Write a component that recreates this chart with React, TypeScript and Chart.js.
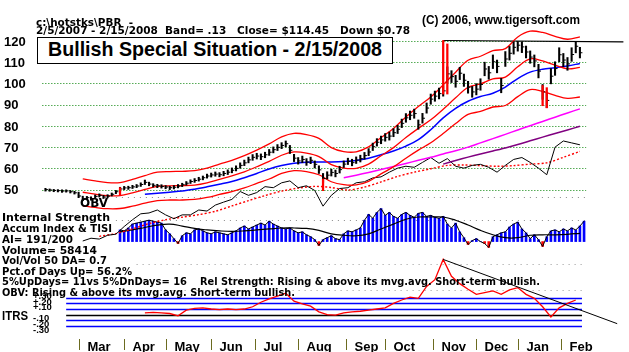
import React, { useEffect, useLayoutEffect, useRef } from "react";
import { Chart, registerables } from "chart.js";
Chart.register(...registerables);

const W = 629;
const H = 352;

// ---------- data (trading-day based, price sampled every 2 trading days) ----------
const priceLow = [
  49.3, 49.2, 49.0, 48.9, 48.7, 48.8, 48.4, 47.9, 46.2, 44.8,
  45.3, 45.0, 45.9, 46.5, 45.8, 46.1, 47.0, 48.1, 48.9, 50.0,
  50.1, 50.5, 50.9, 51.5, 52.4, 51.8, 51.2, 50.9, 50.7, 50.4,
  50.0, 50.3, 50.8, 51.4, 52.1, 52.9, 53.4, 54.0, 54.6, 55.4,
  55.9, 56.3, 56.0, 56.5, 57.1, 57.9, 58.8, 60.1, 61.3, 62.6,
  63.8, 64.4, 64.1, 65.0, 66.1, 67.3, 68.4, 69.3, 70.1, 67.0,
  63.2, 62.0, 62.7, 61.4, 62.2, 60.2, 57.6, 53.4, 55.0, 56.4,
  56.0, 57.8, 60.4, 61.8, 61.2, 62.3, 63.0, 64.3, 66.0, 68.4,
  70.5, 71.6, 72.8, 73.3, 74.9, 76.4, 79.2, 81.7, 82.9, 83.6,
  78.4, 81.3, 86.0, 90.2, 91.6, 92.7, 94.0, 100.2, 100.4, 98.2,
  101.8, 98.6, 95.4, 93.5, 94.6, 96.8, 103.6, 102.0, 107.0, 105.0,
  95.6, 108.0, 111.0, 113.8, 115.2, 114.5, 112.0, 109.5, 107.8, 102.6,
  92.5, 88.6, 99.8, 103.8, 110.2, 107.9, 106.2, 110.4, 114.4, 112.0,
];
const priceHigh = [
  50.6, 50.3, 50.1, 50.0, 49.9, 49.9, 49.6, 49.2, 48.8, 46.9,
  46.8, 46.6, 47.5, 48.0, 47.3, 47.6, 48.4, 49.6, 51.1, 51.5,
  51.6, 52.0, 52.4, 53.2, 54.5, 53.5, 52.8, 52.5, 52.3, 51.9,
  51.6, 51.9, 52.4, 53.0, 53.8, 54.6, 55.2, 55.8, 56.4, 57.3,
  57.8, 58.3, 58.0, 58.6, 59.3, 60.2, 61.2, 62.6, 63.9, 65.3,
  66.5, 67.1, 66.8, 67.6, 68.9, 70.1, 71.2, 72.1, 72.9, 70.8,
  66.6, 65.1, 65.8, 64.6, 65.3, 63.5, 61.2, 57.6, 58.4, 59.6,
  59.2, 61.0, 63.5, 64.8, 64.3, 65.4, 66.2, 67.5, 69.3, 71.9,
  74.0, 75.2, 76.4, 77.1, 78.7, 80.3, 83.2, 85.8, 87.0, 87.9,
  82.8, 85.9, 90.8, 95.0, 96.4, 97.8, 99.0, 107.8, 106.0, 103.8,
  107.6, 104.4, 101.0, 98.6, 99.9, 102.2, 110.0, 108.0, 113.4, 111.0,
  102.4, 115.0, 117.4, 119.6, 119.8, 119.6, 117.6, 115.3, 113.4, 109.0,
  99.5, 95.5, 107.0, 110.2, 116.8, 114.1, 112.2, 116.8, 119.4, 117.0,
];
const priceClose = [
  50.0, 49.8, 49.6, 49.5, 49.3, 49.4, 49.0, 48.5, 47.0, 45.5,
  46.2, 45.8, 46.8, 47.3, 46.5, 46.9, 47.8, 49.0, 50.3, 50.8,
  50.9, 51.3, 51.7, 52.4, 53.4, 52.6, 52.0, 51.8, 51.5, 51.2,
  50.9, 51.1, 51.6, 52.3, 53.0, 53.8, 54.3, 54.9, 55.6, 56.4,
  56.9, 57.3, 57.0, 57.6, 58.2, 59.1, 60.0, 61.4, 62.6, 64.0,
  65.2, 65.8, 65.5, 66.4, 67.6, 68.8, 69.9, 70.8, 71.6, 68.5,
  64.8, 63.5, 64.2, 63.0, 63.8, 61.9, 59.3, 55.2, 56.8, 58.1,
  57.6, 59.4, 62.0, 63.3, 62.7, 63.9, 64.6, 66.0, 67.7, 70.2,
  72.3, 73.4, 74.6, 75.2, 76.8, 78.4, 81.2, 83.8, 85.0, 85.8,
  80.5, 83.6, 88.4, 92.6, 94.0, 95.2, 96.5, 104.5, 103.2, 101.0,
  104.8, 101.5, 98.2, 96.0, 97.3, 99.5, 106.8, 105.0, 110.2, 108.0,
  99.0, 111.5, 114.2, 117.0, 118.0, 117.2, 114.8, 112.4, 110.6, 105.8,
  96.0, 92.0, 103.4, 107.0, 113.5, 111.0, 109.2, 113.6, 117.5, 114.45,
];
// red signal bars (sample index, low, high)
const signalJ = [18, 67, 96, 97, 120, 121];
const signalLow = [47.6, 49.5, 95.0, 95.0, 89.5, 88.5];
const signalHigh = [50.9, 55.0, 120.2, 118.6, 99.0, 98.0];

// bands (every 3 samples from sample 9)
const bandMid = [
  48.76, 47.87, 47.17, 47.19, 48.49, 50.09, 51.47, 51.79, 51.89, 52.14,
  53.19, 54.83, 56.46, 58.37, 60.75, 63.25, 66.18, 67.72, 67.19, 65.57,
  61.74, 60.12, 60.02, 62.01, 65.95, 69.76, 74.51, 78.82, 82.85, 87.87,
  93.21, 98.17, 99.79, 102.14, 103.0, 107.86, 111.57, 110.59, 108.56, 106.88, 107.59,
];
const bandUpper = [
  55.1, 54.1, 53.3, 53.3, 54.8, 56.6, 58.2, 58.5, 58.6, 58.9,
  60.1, 62.0, 63.8, 66.0, 68.6, 71.5, 74.8, 76.5, 75.9, 74.1,
  69.8, 67.9, 67.8, 70.1, 74.5, 78.8, 84.2, 89.1, 93.6, 99.3,
  105.3, 110.9, 112.8, 115.4, 116.4, 121.9, 124.6, 124.0, 122.2, 120.8, 121.9,
];
const bandLower = [
  42.4, 41.6, 41.0, 41.1, 42.2, 43.6, 44.8, 45.1, 45.1, 45.4,
  46.3, 47.7, 49.1, 50.8, 52.9, 55.0, 57.6, 58.9, 58.5, 57.0,
  53.7, 52.3, 52.2, 53.9, 57.4, 60.7, 64.8, 68.6, 72.1, 76.4,
  81.1, 85.4, 86.8, 88.9, 89.6, 93.8, 97.1, 96.2, 94.4, 93.0, 93.6,
];
// 50-day MA (every 3 samples from 24)
const ma50 = [
  47.8, 48.3, 48.8, 49.3, 50.2, 51.3, 52.5, 53.8, 55.6, 57.6,
  59.7, 61.3, 62.4, 62.9, 63.0, 63.0, 63.2, 63.7, 64.8, 66.4,
  68.2, 70.5, 73.5, 78.2, 83.8, 88.3, 91.6, 93.8, 95.4, 98.3,
  102.3, 105.3, 106.7, 107.4, 108.2, 109.4,
];
// magenta MA (every 3 samples from 72)
const maMagenta = [
  55.6, 56.8, 58.1, 59.5, 60.9, 62.3, 63.8, 65.2, 66.8, 68.3,
  70.0, 72.0, 74.0, 76.0, 78.1, 80.1, 82.1, 84.1, 86.1, 88.0,
];
// purple MA (every 3 samples from 96)
const maPurple = [62.0, 63.7, 65.3, 66.8, 68.2, 69.6, 71.2, 73.0, 74.7, 76.4, 78.1, 79.8];
// OBV (scaled to price axis, every 2 samples from 9)
const obv = [
  25.8, 27.1, 26.7, 28.5, 29.0, 32.6, 35.8, 38.6, 39.0, 40.4,
  38.1, 36.3, 38.1, 38.1, 40.4, 39.9, 42.7, 44.1, 45.4, 49.1,
  47.3, 48.6, 51.4, 50.9, 53.2, 54.1, 50.9, 51.8, 49.6, 42.2,
  47.3, 50.5, 50.9, 53.2, 53.7, 55.5, 56.0, 58.2, 60.1, 61.0,
  60.5, 62.8, 65.1, 62.4, 64.6, 61.0, 60.1, 61.4, 61.9, 60.5,
  58.2, 61.4, 64.2, 65.1, 62.8, 60.1, 57.0, 70.0, 72.9, 72.0, 71.1,
];
// OBV moving average (every 4 samples from 13)
const obvMa = [
  28.0, 29.3, 31.5, 34.0, 35.8, 37.0, 38.2, 39.8, 42.3, 44.8,
  47.2, 49.3, 50.7, 51.5, 51.0, 49.8, 51.2, 53.6, 56.2, 58.2,
  59.8, 61.4, 61.6, 61.3, 61.0, 61.3, 62.0, 62.6, 65.2, 68.0,
];
// Accumulation index (every sample from 18)
const accum = [
  12, 11, 14, 18, 19, 20, 21, 22, 21, 20,
  19, 12, 8, 3, -2, 6, 9, 8, 12, 13,
  11, 9, 8, 10, 9, 8, 7, 9, 11, 14,
  16, 13, 15, 17, 19, 17, 21, 18, 16, 14,
  13, 14, 11, 9, 10, 7, 5, 2, -4, 2,
  4, 6, 3, 2, 8, 11, 10, 12, 14, 22,
  28, 24, 30, 34, 27, 30, 26, 24, 28, 30,
  27, 25, 29, 30, 26, 27, 25, 24, 26, 18,
  14, 19, 10, 4, -3, 1, 3, 0, -2, -6,
  5, 7, 9, 10, 15, 18, 20, 13, 9, 3,
  7, 2, -5, 5, 11, 12, 10, 13, 11, 14,
  12, 16, 21,
];
// Accumulation index moving average (every 3 samples from 18)
const accumMa = [
  10, 12, 14.5, 17, 18, 16, 13.5, 12, 11, 10.5,
  11, 12, 13, 14, 14, 13.5, 11.5, 8, 6.5, 6,
  8, 13, 18, 23, 25.3, 25.3, 25.3, 22, 17, 11.5,
  7, 4, 4, 6.5, 7, 7, 7.5, 8.5,
];
// ITRS (every 2 samples from 24)
const itrs = [
  0.03, 0.04, 0.03, 0.02, -0.02, 0.08, 0.11, 0.12, 0.10, 0.09,
  0.10, 0.09, 0.10, 0.14, 0.22, 0.28, 0.33, 0.38, 0.24, 0.19,
  0.15, 0.05, 0.00, -0.01, 0.03, 0.05, 0.06, 0.08, 0.10, 0.12,
  0.20, 0.26, 0.31, 0.29, 0.50, 0.62, 0.98, 0.68, 0.55, 0.45,
  0.36, 0.39, 0.42, 0.36, 0.44, 0.48, 0.36, 0.29, 0.14, -0.04,
  0.12, 0.20, 0.26,
];
const resistDays = [193, 280];
const resistVals = [120.2, 119.6];
const trendDays = [193, 277];
const trendVals = [0.98, -0.16];

const priceTicks = [120, 110, 100, 90, 80, 70, 60, 50];
const itrsBlueLevels = [0.3, 0.2, 0.1, -0.1, -0.2];
const itrsTickLabels = ["+.30", "+.20", "+.10", "-.10", "-.20", "-.30"];
const itrsTickValues = [0.3, 0.2, 0.1, -0.1, -0.2, -0.3];
const accumGuides = [46, 22.5];
const itrsGuides = [0.89, 0.44];
const monthNames = ["Mar", "Apr", "May", "Jun", "Jul", "Aug", "Sep", "Oct", "Nov", "Dec", "Jan", "Feb"];
const monthStartDays = [17, 39, 59, 81, 102, 123, 146, 165, 188, 209, 229, 250];

// ---------- geometry of the scales ----------
const X0 = 39;
const PXD = 2.105;
const X_MIN = -X0 / PXD;
const X_MAX = (W - X0) / PXD;
const P_PX = 153 / 70;
const P_MAX = 120 + 37 / P_PX;
const P_MIN = 120 - (H - 37) / P_PX;
const AI_ZERO = 243.5;
const IT_ZERO = 318.7;
const IT_PX = 58;

const day = (j: number) => 2 * j + 1;
const pts = (start: number, step: number, vals: number[]) =>
  vals.map((v, k) => ({ x: day(start + k * step), y: v }));

const LIB = '"Liberation Sans", Arial, sans-serif';
const DV = '"DejaVu Sans", Verdana, sans-serif';

const decor = {
  id: "decor",
  beforeDatasetsDraw(chart: any) {
    const { ctx, scales } = chart;
    const xs = scales.x, yp = scales.y, ya = scales.yAI, yi = scales.yITRS;
    const hline = (y: number, d1: number, d2: number, color: string, dash: number[], w: number) => {
      const yy = Math.round(y) + 0.5;
      ctx.save();
      ctx.strokeStyle = color;
      ctx.lineWidth = w;
      ctx.setLineDash(dash);
      ctx.beginPath();
      ctx.moveTo(xs.getPixelForValue(d1), yy);
      ctx.lineTo(xs.getPixelForValue(d2), yy);
      ctx.stroke();
      ctx.restore();
    };
    priceTicks.forEach((t) => hline(yp.getPixelForValue(t), -0.5, 262, "#008000", [1, 2], 1));
    accumGuides.forEach((t) => hline(ya.getPixelForValue(t), 35, 262, "#888888", [1, 5], 1));
    itrsGuides.forEach((t) => hline(yi.getPixelForValue(t), 45, 262, "#999999", [1, 5], 1));
    itrsBlueLevels.forEach((t) => hline(yi.getPixelForValue(t), 11, 260, "#0000ff", [], 1.3));
    hline(yi.getPixelForValue(0), 11, 260, "#000000", [], 1.3);
  },
  afterDatasetsDraw(chart: any) {
    const { ctx, scales } = chart;
    const xs = scales.x, yp = scales.y, yi = scales.yITRS;
    ctx.save();
    ctx.fillStyle = "#000";
    ctx.textAlign = "left";
    ctx.textBaseline = "alphabetic";
    ctx.font = `bold 13px ${LIB}`;
    priceTicks.forEach((t) => ctx.fillText(String(t), 4, yp.getPixelForValue(t) + 4.7));
    ctx.font = `bold 9.5px ${LIB}`;
    itrsTickValues.forEach((v, k) => ctx.fillText(itrsTickLabels[k], 33, yi.getPixelForValue(v + 0.04) + 3.4));
    ctx.font = `bold 13px ${LIB}`;
    monthStartDays.forEach((d, k) => {
      const px = Math.round(xs.getPixelForValue(d)) + 0.5;
      ctx.strokeStyle = "#6b6b20";
      ctx.lineWidth = 1;
      ctx.beginPath();
      ctx.moveTo(px, 339);
      ctx.lineTo(px, 350);
      ctx.stroke();
      ctx.fillText(monthNames[k], px + 8, 350.5);
    });
    ctx.restore();
  },
};

type TextSpec = { t: string; l: number; c: number; s: number; f: string; w: number };
const CAP_OFF: Record<string, number> = { lib: 0.1305, dv: 0.117 };

const texts: TextSpec[] = [
  { t: "c:\\hotstks\\PBR  -", l: 36, c: 18.5, s: 11, f: "dv", w: 97 },
  { t: "2/5/2007 - 2/15/2008  Band= .13   Close= $114.45   Down $0.78", l: 36, c: 26, s: 11, f: "dv", w: 374 },
  { t: "(C) 2006, www.tigersoft.com", l: 422, c: 16, s: 12, f: "lib", w: 158 },
  { t: "Internal Strength", l: 2, c: 213.5, s: 11, f: "dv", w: 108 },
  { t: "Accum Index & TISI", l: 2, c: 224.6, s: 11, f: "dv", w: 110 },
  { t: "AI= 191/200", l: 2, c: 235.2, s: 11, f: "dv", w: 71 },
  { t: "Volume= 58414", l: 2, c: 245.8, s: 11, f: "dv", w: 95 },
  { t: "Vol/Vol 50 DA= 0.7", l: 2, c: 256.4, s: 11, f: "dv", w: 105 },
  { t: "Pct.of Days Up= 56.2%", l: 2, c: 267, s: 11, f: "dv", w: 130 },
  { t: "5%UpDays= 11vs 5%DnDays= 16", l: 2, c: 277.6, s: 11, f: "dv", w: 185 },
  { t: "Rel Strength: Rising & above its mvg.avg. Short-term bullish.", l: 200, c: 277.6, s: 11, f: "dv", w: 340 },
  { t: "OBV: Rising & above its mvg.avg. Short-term bullish.", l: 2, c: 288.2, s: 11, f: "dv", w: 293 },
  { t: "OBV", l: 80, c: 198, s: 12.5, f: "dv", w: 28 },
  { t: "ITRS", l: 2, c: 312, s: 12, f: "lib", w: 26 },
];

function FitText({ spec }: { spec: TextSpec }) {
  const ref = useRef<HTMLDivElement>(null);
  useLayoutEffect(() => {
    const el = ref.current;
    if (!el) return;
    el.style.transform = "none";
    const w = el.getBoundingClientRect().width;
    if (w > 0) el.style.transform = `scaleX(${spec.w / w})`;
  }, [spec]);
  return (
    <div
      ref={ref}
      style={{
        position: "absolute",
        left: spec.l,
        top: spec.c - CAP_OFF[spec.f] * spec.s,
        fontFamily: spec.f === "lib" ? LIB : DV,
        fontSize: spec.s,
        fontWeight: "bold",
        lineHeight: `${spec.s}px`,
        whiteSpace: "pre",
        transformOrigin: "0 0",
        color: "#000",
      }}
    >
      {spec.t}
    </div>
  );
}

export default function App() {
  const canvasRef = useRef<HTMLCanvasElement>(null);

  useEffect(() => {
    const canvas = canvasRef.current;
    if (!canvas) return;
    const priceBars = priceLow.map((lo, j) => ({ x: day(j), y: [lo, priceHigh[j]] }));
    const closes = priceClose.map((c, j) => ({ x: day(j), y: c }));
    const signals = signalJ.map((j, k) => ({ x: day(j), y: [signalLow[k], signalHigh[k]] }));
    const accumPts = pts(18, 1, accum);
    const line = (data: any[], color: string, width: number, yAxisID = "y", extra: any = {}) => ({
      type: "line",
      data,
      yAxisID,
      borderColor: color,
      borderWidth: width,
      pointRadius: 0,
      fill: false,
      tension: 0,
      ...extra,
    });

    const chart = new Chart(canvas, {
      type: "bar",
      data: {
        datasets: [
          { type: "bar", data: signals, backgroundColor: "#ff0000", barThickness: 1.6, grouped: false, yAxisID: "y" },
          line(closes, "#000", 1, "y", { showLine: false, pointStyle: "dash", pointRadius: 2.5, pointBorderWidth: 1, pointBorderColor: "#000" }),
          { type: "bar", data: priceBars, backgroundColor: "#000000", barThickness: 1.4, grouped: false, yAxisID: "y" },
          line(pts(9, 3, bandUpper), "#ff0000", 1.3, "y", { tension: 0.35 }),
          line(pts(9, 3, bandMid), "#ff0000", 1.3, "y", { tension: 0.35 }),
          line(pts(9, 3, bandLower), "#ff0000", 1.3, "y", { tension: 0.35 }),
          line(pts(24, 3, ma50), "#0000ff", 1.5, "y", { tension: 0.35 }),
          line(pts(72, 3, maMagenta), "#ff00ff", 1.5, "y", { tension: 0.3 }),
          line(pts(96, 3, maPurple), "#800080", 1.5, "y", { tension: 0.3 }),
          line(resistDays.map((d, k) => ({ x: d, y: resistVals[k] })), "#000", 1.2, "y"),
          line(pts(9, 2, obv), "#000", 1, "y"),
          line(pts(13, 4, obvMa), "#ff0000", 1.4, "y", { borderDash: [2, 2], tension: 0.3 }),
          line(accumPts, "#000", 1, "yAI"),
          line(pts(18, 3, accumMa), "#000", 1.2, "yAI", { tension: 0.4 }),
          {
            type: "bar",
            data: accumPts,
            yAxisID: "yAI",
            grouped: false,
            barThickness: 2,
            backgroundColor: (c: any) => (c.raw && c.raw.y < 0 ? "#ff0000" : "#0000ff"),
          },
          line(trendDays.map((d, k) => ({ x: d, y: trendVals[k] })), "#000", 1, "yITRS"),
          line(pts(24, 2, itrs), "#ff0000", 1.3, "yITRS"),
        ] as any,
      },
      options: {
        responsive: false,
        animation: false,
        devicePixelRatio: 1,
        events: [],
        layout: { padding: 0 },
        plugins: { legend: { display: false }, tooltip: { enabled: false }, title: { display: false } },
        scales: {
          x: { type: "linear", min: X_MIN, max: X_MAX, display: false, offset: false },
          y: { type: "linear", min: P_MIN, max: P_MAX, display: false },
          yAI: { type: "linear", min: AI_ZERO - H, max: AI_ZERO, display: false },
          yITRS: { type: "linear", min: -(H - IT_ZERO) / IT_PX, max: IT_ZERO / IT_PX, display: false },
        },
      } as any,
      plugins: [decor as any],
    });
    return () => chart.destroy();
  }, []);

  return (
    <div style={{ position: "fixed", left: 0, top: 0, width: W, height: H, overflow: "hidden", background: "#fff" }}>
      <canvas ref={canvasRef} width={W} height={H} style={{ position: "absolute", left: 0, top: 0, width: W, height: H }} />
      <div
        style={{
          position: "absolute",
          left: 37,
          top: 37,
          width: 356,
          height: 27,
          border: "1px solid #000",
          background: "#fff",
          boxSizing: "border-box",
        }}
      />
      <FitText spec={{ t: "Bullish Special Situation - 2/15/2008", l: 48, c: 42.7, s: 19.5, f: "lib", w: 334 }} />
      {texts.map((s, k) => (
        <FitText key={k} spec={s} />
      ))}
    </div>
  );
}
